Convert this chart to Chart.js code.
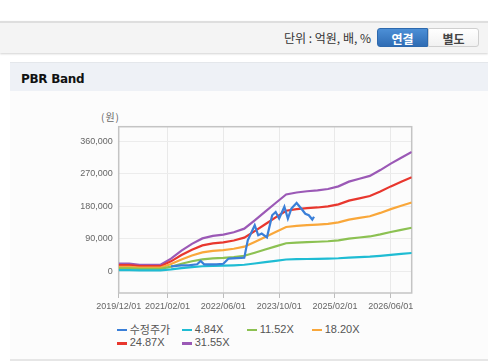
<!DOCTYPE html>
<html>
<head>
<meta charset="utf-8">
<script src="https://cdn.jsdelivr.net/npm/chart.js@4.4.1/dist/chart.umd.min.js"></script>
<style>
  html,body{margin:0;padding:0;background:#fff;}
  body{width:488px;height:362px;position:relative;overflow:hidden;font-family:"Liberation Sans",Arial,"Noto Sans CJK KR",sans-serif;}
  .topbar{position:absolute;left:0;top:21px;width:488px;height:30px;background:#f4f4f4;border-top:2px solid #dedede;box-shadow:0 1px 2px rgba(0,0,0,0.18);}
  .unit{position:absolute;right:117px;top:30px;font-size:12px;line-height:16px;color:#333;font-family:"Noto Sans CJK KR",sans-serif;white-space:nowrap;}
  .btn{position:absolute;top:28px;height:19px;line-height:19px;font-size:12px;font-weight:bold;text-align:center;font-family:"Noto Sans CJK KR",sans-serif;box-sizing:border-box;}
  .b1{left:377px;width:51px;background:linear-gradient(#4c8fd6,#2f6cb4);color:#fff;border-radius:3px 0 0 3px;border:1px solid #2d69ad;}
  .b2{left:428px;width:51px;background:linear-gradient(#ffffff,#f1f1f1);color:#444;border:1px solid #cfcfcf;border-radius:0 3px 3px 0;}
  .hdr{position:absolute;left:10px;top:62px;width:478px;height:29px;background:#eef1f6;border-top:1px solid #e4e7eb;box-sizing:border-box;}
  .hdr span{position:absolute;left:11px;top:8.5px;font-size:12px;font-weight:bold;color:#111;line-height:14px;font-family:"DejaVu Sans","Liberation Sans",sans-serif;letter-spacing:-0.3px;}
  .panel{position:absolute;left:10px;top:91px;width:478px;height:268px;background:#fcfcfc;border-bottom:2px solid #e6e6e6;}
  .ylab{position:absolute;left:101px;top:109.5px;font-size:10px;line-height:13px;color:#666;font-family:"Noto Sans CJK KR",sans-serif;letter-spacing:1px;}
  canvas{position:absolute;left:0;top:100px;}
  .lg{position:absolute;font-size:11px;line-height:13px;color:#555;white-space:nowrap;}
  .lg i{position:absolute;left:0;top:6px;width:10px;height:2.5px;}
  .lg span{position:absolute;left:13px;top:0;}
  .lg span.k{font-family:"Noto Sans CJK KR",sans-serif;}
</style>
</head>
<body>
<div class="topbar"></div>
<div class="unit">단위 : 억원, 배, %</div>
<div class="btn b1">연결</div>
<div class="btn b2">별도</div>
<div class="hdr"><span>PBR Band</span></div>
<div class="panel"></div>
<div class="ylab">(원)</div>
<canvas id="c" width="488" height="220" style="width:488px;height:220px"></canvas>
<div id="legend"></div>
<script>
// ---- data (x = months since 2019/12/01) ----
const tickLabels = ['2019/12/01','2021/02/01','2022/06/01','2023/10/01','2025/02/01','2026/06/01'];
const tickMonths = [0, 14, 30, 46, 62, 78];
const yTicks = [0, 90000, 180000, 270000, 360000];

const seriesNames = ['수정주가', '4.84X', '11.52X', '18.20X', '24.87X', '31.55X'];
const seriesColors = ['#3a7fd8', '#1fbcd3', '#8cc152', '#f9a73a', '#e8372e', '#9b59b6'];

const bandMonths = [0,3,6,9,12,15,18,21,24,27,30,33,36,39,42,45,48,51,54,57,60,63,66,69,72,75,78,81,84];
const band484  = [3300,3300,2760,2760,2760,5370,8740,11660,13960,15030,15590,16570,18100,21630,25310,28990,32610,33440,33980,34360,34910,36050,38040,39270,40500,42950,45710,48170,50620];
const band1152 = [7850,7850,6570,6570,6570,12780,20810,27750,33220,35780,37090,39430,43080,51480,60240,69000,77620,79590,80870,81780,83100,85800,90540,93470,96390,102230,108800,114640,120480];
const band1820 = [12400,12400,10380,10380,10380,20190,32880,43840,52500,56540,58610,62310,68070,81340,95190,109030,122650,125760,127780,129230,131300,135570,143070,147690,152300,161530,171920,181150,190380];
const band2487 = [16950,16950,14190,14190,14190,27590,44930,59910,71740,77250,80090,85140,93020,111150,130070,148990,167590,171850,174610,176580,179420,185250,195500,201800,208110,220720,234910,247530,260140];
const band3155 = [21500,21500,18000,18000,18000,35000,57000,76000,91000,98000,101600,108000,118000,141000,165000,189000,212600,218000,221500,224000,227600,235000,248000,256000,264000,280000,298000,314000,330000];

const priceMonths = [15,18,20,22.5,23.5,24.5,28,30,31.5,36,37,39,40,41,42.5,44,45,46,47.5,48.5,49.5,51,52.5,53.5,54.5,55.5,56];
const priceValues = [13800,16600,16600,19400,28500,19400,19400,20800,35200,37900,85800,127400,99700,104400,94100,155100,164200,145900,178600,145900,173600,189100,171700,159200,155100,143200,150900];

function pts(xs, ys){ return xs.map((x,i)=>({x:x, y:ys[i]})); }
const seriesData = [
  pts(priceMonths, priceValues),
  pts(bandMonths, band484),
  pts(bandMonths, band1152),
  pts(bandMonths, band1820),
  pts(bandMonths, band2487),
  pts(bandMonths, band3155)
];

const frame = {
  id:'frame',
  beforeDatasetsDraw(chart){
    const a = chart.chartArea, ctx = chart.ctx;
    ctx.save();
    ctx.strokeStyle = '#c4c4c4';
    ctx.lineWidth = 1.5;
    ctx.strokeRect(a.left, a.top, a.right - a.left, a.bottom - a.top);
    ctx.restore();
  }
};

function fmt(v){ return String(v).replace(/\B(?=(\d{3})+(?!\d))/g, ','); }

new Chart(document.getElementById('c'), {
  type: 'line',
  data: {
    datasets: seriesNames.map((n,i)=>({
      label: n,
      data: seriesData[i],
      borderColor: seriesColors[i],
      backgroundColor: seriesColors[i],
      borderWidth: 2.2,
      pointRadius: 0,
      tension: 0,
      fill: false
    }))
  },
  options: {
    responsive: false,
    animation: false,
    layout: { padding: { top: 26.7, right: 76.3, left: 0, bottom: 0 } },
    plugins: { legend: { display: false }, tooltip: { enabled: false } },
    scales: {
      x: {
        type: 'linear', min: 0, max: 84,
        afterBuildTicks(s){ s.ticks = tickMonths.map(v=>({value:v})); },
        afterFit(s){ s.height = 27; },
        ticks: {
          callback(v){ const i = tickMonths.indexOf(v); return i >= 0 ? tickLabels[i] : ''; },
          font: { size: 9, family: 'Liberation Sans, Arial, sans-serif' },
          color: '#666', maxRotation: 0, autoSkip: false, padding: 3
        },
        grid: { color: '#e9e9e9', tickColor: '#bdbdbd', tickLength: 5, lineWidth: 1 },
        border: { display: false }
      },
      y: {
        min: -60000, max: 400000,
        afterBuildTicks(s){ s.ticks = yTicks.map(v=>({value:v})); },
        afterFit(s){ s.width = 118.7; },
        ticks: {
          callback(v){ return fmt(v); },
          font: { size: 9, family: 'Liberation Sans, Arial, sans-serif' },
          color: '#666', padding: 6
        },
        grid: { color: '#ececec', drawTicks: false, lineWidth: 1 },
        border: { display: false }
      }
    }
  },
  plugins: [frame]
});

// HTML legend in fixed columns
const lg = document.getElementById('legend');
const colX = [116.7, 181.7, 246.7, 311.7];
const rowY = [322.5, 336.2];
seriesNames.forEach((n,i)=>{
  const d = document.createElement('div');
  d.className = 'lg';
  d.style.left = colX[i % 4] + 'px';
  d.style.top = rowY[Math.floor(i / 4)] + 'px';
  const m = document.createElement('i'); m.style.background = seriesColors[i];
  const t = document.createElement('span'); t.textContent = n;
  if (/[가-힣]/.test(n)) t.className = 'k';
  d.appendChild(m); d.appendChild(t);
  lg.appendChild(d);
});
</script>
</body>
</html>
